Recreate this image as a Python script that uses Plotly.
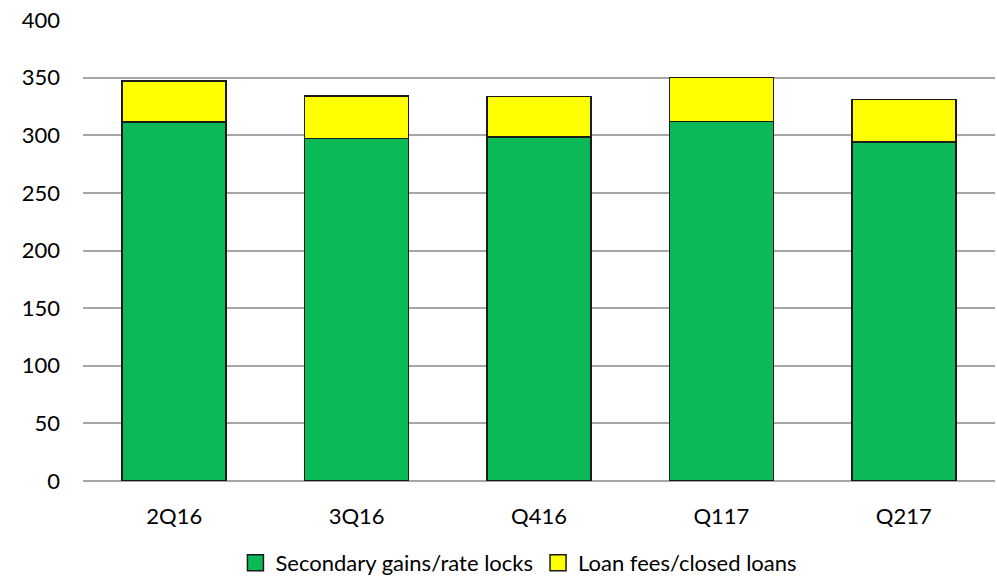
import plotly.graph_objects as go

# Quarterly revenue components (stacked)
quarters = ["2Q16", "3Q16", "Q416", "Q117", "Q217"]
secondary_gains = [311.5, 297, 298.5, 312, 294]
loan_fees = [35.5, 37, 35, 38, 37]
y_ticks = [0, 50, 100, 150, 200, 250, 300, 350, 400]
series_names = ["Secondary gains/rate locks", "Loan fees/closed loans"]

FONT = "Lato"
FONT_SIZE = 22
GREEN = "#0BBA56"
YELLOW = "#FFFF00"
GRID = "#A6A6A6"
OUTLINE = "#1a1a1a"

fig = go.Figure()
for vals, name, color in zip([secondary_gains, loan_fees], series_names, [GREEN, YELLOW]):
    fig.add_trace(go.Bar(
        x=quarters, y=vals, name=name, showlegend=False,
        marker=dict(color=color, line=dict(color=OUTLINE, width=1.5)),
    ))
    # legend entry with a larger outlined square swatch
    fig.add_trace(go.Scatter(
        x=[None], y=[None], mode="markers", name=name,
        marker=dict(symbol="square", size=16, color=color,
                    line=dict(color=OUTLINE, width=1.5)),
    ))

fig.update_layout(
    barmode="stack",
    bargap=0.43,
    width=997, height=579,
    margin=dict(l=83, r=2, t=20, b=98, autoexpand=False),
    plot_bgcolor="white", paper_bgcolor="white",
    font=dict(family=FONT, size=FONT_SIZE, color="#000000"),
    showlegend=True,
    legend=dict(
        orientation="h", x=0.478, xanchor="center", y=-0.178, yanchor="middle",
        font=dict(family=FONT, size=FONT_SIZE, color="#000000"),
        traceorder="normal", itemwidth=30,
    ),
    xaxis=dict(
        showgrid=False, showline=False, ticks="",
        ticklabelstandoff=20,
        tickfont=dict(family=FONT, size=FONT_SIZE),
    ),
    yaxis=dict(
        range=[0, 400], tickvals=y_ticks,
        showgrid=True, gridcolor=GRID, gridwidth=1.5,
        zeroline=True, zerolinecolor=GRID, zerolinewidth=1.5,
        showline=False, ticks="",
        ticklabelstandoff=22,
        tickfont=dict(family=FONT, size=FONT_SIZE),
    ),
)

fig.write_html("out.html")
